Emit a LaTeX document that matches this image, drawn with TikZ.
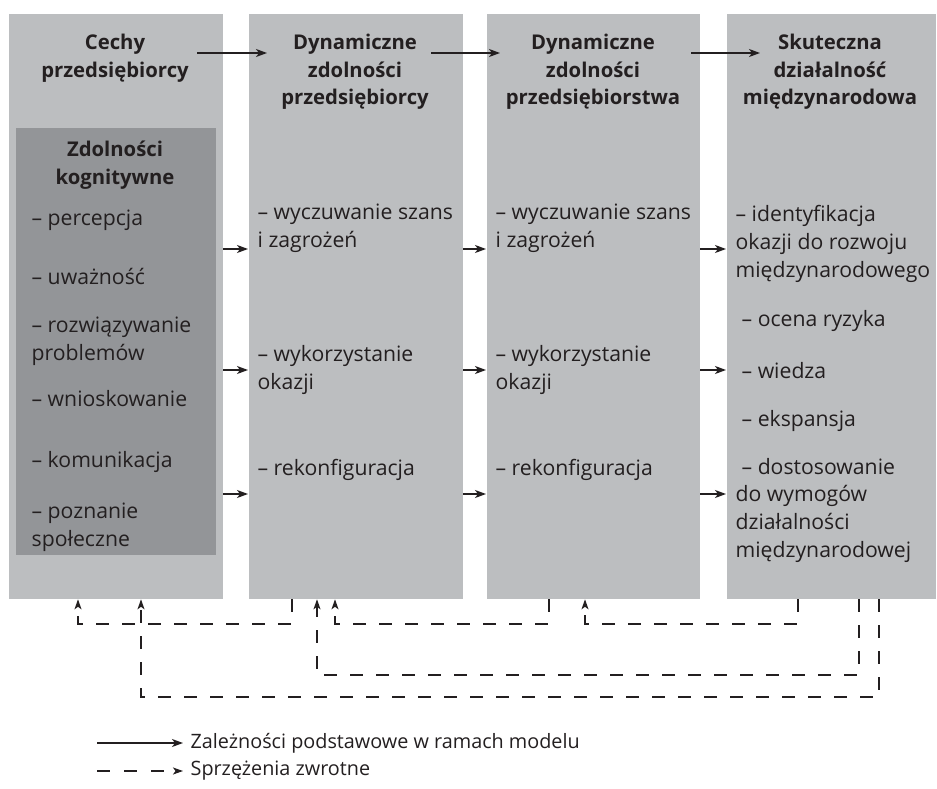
\documentclass[tikz,border=0pt]{standalone}
\usepackage{fontspec}
\setmainfont{Open Sans}
\usetikzlibrary{arrows.meta}

\definecolor{panelgrey}{HTML}{BCBEC0}
\definecolor{cogngrey}{HTML}{939598}
\definecolor{inkcol}{HTML}{231F20}
\newcommand{\itemsize}{\fontsize{21.2pt}{28pt}\selectfont}
\newcommand{\headsize}{\fontsize{20.3pt}{27.5pt}\selectfont\bfseries}
\newcommand{\legendsize}{\fontsize{19.8pt}{28pt}\selectfont}

\tikzset{every picture/.style={line width=1.3pt}}

\begin{document}
\begin{tikzpicture}[x=1pt,y=1pt,yscale=-1,
    panel/.style={fill=panelgrey, inner sep=0pt, anchor=north west, minimum height=585pt},
    cognbox/.style={fill=cogngrey, inner sep=0pt, anchor=north west, minimum width=200pt, minimum height=427pt},
    head/.style={font=\headsize, text=inkcol, align=center, inner sep=0pt, anchor=north, execute at begin node={\headsize\strut}},
    item/.style={font=\itemsize, text=inkcol, align=left, inner sep=0pt, anchor=north west, execute at begin node={\itemsize\strut}},
    legend/.style={font=\legendsize, text=inkcol, inner sep=0pt, inner xsep=7pt, anchor=west},
    flow/.style={draw=inkcol, -{Stealth[length=11pt,width=8pt,inset=3pt]}},
    feedback/.style={draw=inkcol, dash pattern=on 13pt off 13pt, -{Stealth[length=10pt,width=7pt,inset=2.5pt]}}]
    \useasboundingbox (0,0) rectangle (937,789);

    %Boxes
    \node[panel, minimum width=214pt] (cechy) at (8,13) {};
    \node[panel, minimum width=214pt] (dynprz) at (248,13) {};
    \node[panel, minimum width=213pt] (dynfirm) at (486,13) {};
    \node[panel, minimum width=209pt] (skut) at (726,13) {};
    \node[cognbox] (kogn) at (15,127) {};

    %Headings
    \node[head] (hcechy) at (115,33.75) {Cechy\\przedsiębiorcy};
    \node[head] (hdynprz) at (355,33.75) {Dynamiczne\\zdolności\\przedsiębiorcy};
    \node[head] (hdynfirm) at (593,33.75) {Dynamiczne\\zdolności\\przedsiębiorstwa};
    \node[head] (hskut) at (830,33.75) {Skuteczna\\działalność\\międzynarodowa};
    \node[head] (hkogn) at (115,140.75) {Zdolności\\kognitywne};

    %Cognitive abilities
    \node[item] (perc) at (31,205.4) {– percepcja};
    \node[item] (uwaz) at (31,264.4) {– uważność};
    \node[item] (rozw) at (31,316.4) {– rozwiązywanie\\problemów};
    \node[item] (wnio) at (31,386.4) {– wnioskowanie};
    \node[item] (komu) at (31,447.4) {– komunikacja};
    \node[item] (pozn) at (31,502.4) {– poznanie\\społeczne};

    %Dynamic capabilities of the entrepreneur
    \node[item] (szans1) at (257,203.4) {– wyczuwanie szans\\i zagrożeń};
    \node[item] (okaz1) at (257,344.4) {– wykorzystanie\\okazji};
    \node[item] (rekon1) at (257,455.4) {– rekonfiguracja};

    %Dynamic capabilities of the firm
    \node[item] (szans2) at (495,203.4) {– wyczuwanie szans\\i zagrożeń};
    \node[item] (okaz2) at (495,344.4) {– wykorzystanie\\okazji};
    \node[item] (rekon2) at (495,455.4) {– rekonfiguracja};

    %International performance
    \node[item] (ident) at (735,204.4) {– identyfikacja\\okazji do rozwoju\\międzynarodowego};
    \node[item] (ryzyk) at (741,306.4) {– ocena ryzyka};
    \node[item] (wiedz) at (741,358.4) {– wiedza};
    \node[item] (ekspa) at (741,406.4) {– ekspansja};
    \node[item] (dosto) at (741,454.4) {– dostosowanie};
    \node[item] (wymog) at (735,484.4) {do wymogów\\działalności\\międzynarodowej};

    %Main dependencies
    \coordinate (t1s) at (197,53);
    \coordinate (t1e) at (267,53);
    \coordinate (t2s) at (431,53);
    \coordinate (t2e) at (500,53);
    \coordinate (t3s) at (691,53);
    \coordinate (t3e) at (760,53);
    \draw[flow] (t1s) -- (t1e);
    \draw[flow] (t2s) -- (t2e);
    \draw[flow] (t3s) -- (t3e);
    \foreach \y in {249,370,494} {
        \draw[flow] (cechy.east |- 0,\y) -- (dynprz.west |- 0,\y);
        \draw[flow] (dynprz.east |- 0,\y) -- (dynfirm.west |- 0,\y);
        \draw[flow] (dynfirm.east |- 0,\y) -- (skut.west |- 0,\y);
    }

    %Feedback loops
    \draw[feedback] (dynprz.south -| 292,0) |- (78,624) -- (cechy.south -| 78,0);
    \draw[feedback] (dynfirm.south -| 549,0) |- (335,624) -- (dynprz.south -| 335,0);
    \draw[feedback] (skut.south -| 798,0) |- (585,624) -- (dynfirm.south -| 585,0);
    \draw[feedback] (skut.south -| 859,0) |- (317,675) -- (dynprz.south -| 317,0);
    \draw[feedback] (skut.south -| 879,0) |- (141,697) -- (cechy.south -| 141,0);

    %Legend
    \coordinate (lgflow) at (97,743);
    \coordinate (lgfeed) at (97,771);
    \node[legend] (lgmain) at (183,743) {Zależności podstawowe w ramach modelu};
    \node[legend] (lgback) at (183,771) {Sprzężenia zwrotne};
    \draw[flow] (lgflow) -- (lgmain.west);
    \draw[feedback, dash pattern=on 13pt off 14pt] (lgfeed) -- (lgback.west);
\end{tikzpicture}
\end{document}
